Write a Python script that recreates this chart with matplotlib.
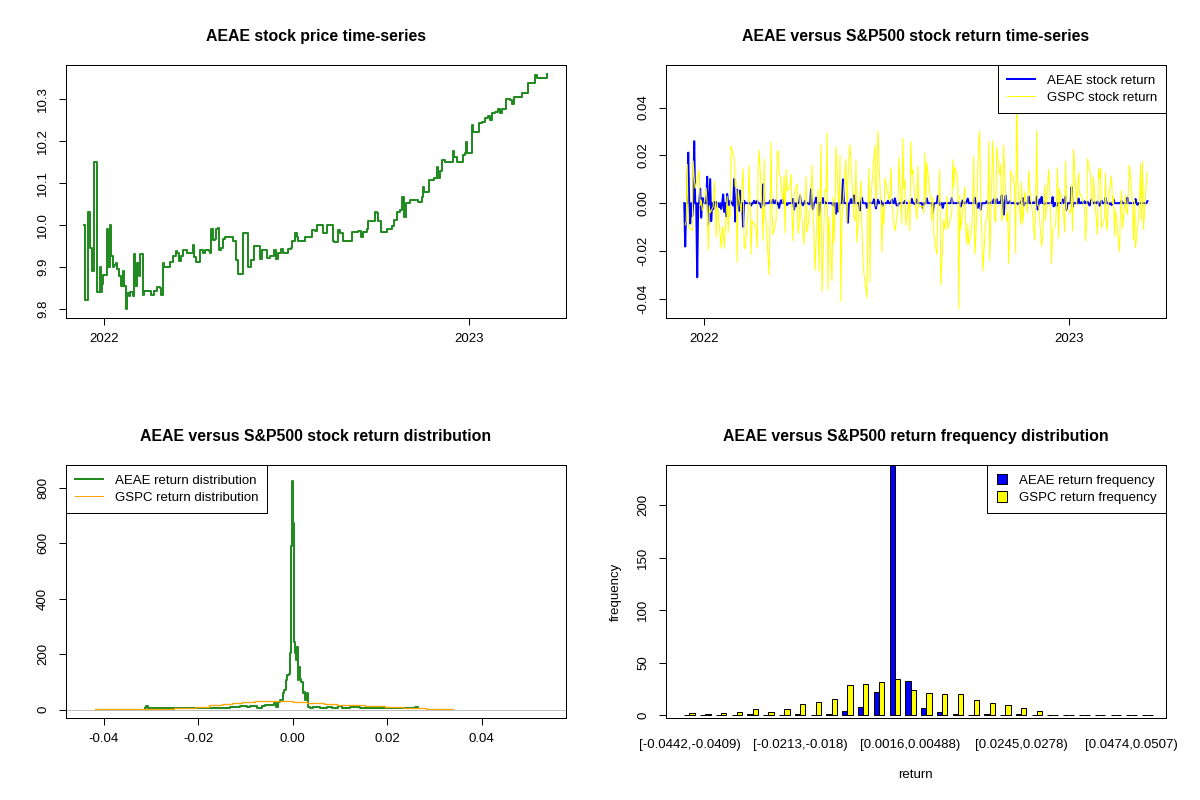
import numpy as np
import pandas as pd
import matplotlib
matplotlib.use('Agg')
import matplotlib.pyplot as plt
import matplotlib.dates as mdates
from matplotlib.patches import Patch
from matplotlib.lines import Line2D

plt.rcParams['font.family'] = ['Liberation Sans', 'DejaVu Sans']

# ---------------- data ----------------
# AEAE price: days after 2022-01-01 and closing price (read at the jumps)
price_day = [-20, -19, -17, -16, -14, -12, -11, -10, -7, -4, -3, -2, -1, 2, 3, 4, 6, 7, 9, 10,
             12, 13, 15, 17, 19, 20, 22, 23, 25, 26, 29, 30, 31, 33, 35, 36, 38, 39, 40, 46,
             47, 50, 53, 56, 57, 59, 60, 64, 66, 69, 72, 73, 75, 77, 79, 83, 88, 89, 90, 92,
             95, 96, 99, 101, 105, 106, 107, 109, 111, 112, 114, 115, 117, 119, 121, 129, 132, 134, 138, 139,
             143, 144, 147, 150, 154, 156, 158, 162, 163, 166, 170, 172, 174, 177, 179, 181, 184, 187, 188, 191,
             193, 194, 199, 201, 207, 208, 211, 213, 218, 219, 223, 227, 229, 230, 234, 236, 239, 244, 248, 254,
             257, 259, 263, 264, 268, 271, 273, 274, 277, 281, 283, 288, 290, 293, 296, 298, 300, 302, 304, 306,
             311, 314, 318, 319, 320, 324, 325, 330, 333, 334, 336, 338, 341, 348, 349, 350, 353, 356, 359, 361,
             362, 363, 367, 368, 369, 374, 375, 378, 381, 384, 386, 388, 391, 394, 396, 398, 402, 406, 408, 410,
             414, 418, 424, 429, 432, 434, 442, 444]
price_val = [10.00, 9.82, 9.82, 10.03, 9.945, 9.89, 9.89, 10.15, 9.84, 9.90, 9.84, 9.86, 9.88, 9.88, 9.99, 9.90, 10.00, 9.925, 9.90, 9.905,
             9.91, 9.895, 9.878, 9.854, 9.89, 9.854, 9.80, 9.838, 9.83, 9.84, 9.83, 9.93, 9.854, 9.91, 9.878, 9.93, 9.93, 9.832, 9.842, 9.842,
             9.832, 9.842, 9.852, 9.85, 9.832, 9.91, 9.90, 9.90, 9.911, 9.925, 9.937, 9.933, 9.913, 9.925, 9.941, 9.933, 9.933, 9.951, 9.924, 9.911,
             9.911, 9.941, 9.932, 9.941, 9.937, 9.932, 9.990, 9.965, 9.967, 9.990, 9.993, 9.941, 9.945, 9.966, 9.971, 9.961, 9.917, 9.882, 9.882, 9.981,
             9.981, 9.90, 9.917, 9.949, 9.949, 9.919, 9.941, 9.941, 9.921, 9.925, 9.941, 9.919, 9.933, 9.943, 9.932, 9.933, 9.943, 9.945, 9.961, 9.981,
             9.971, 9.961, 9.961, 9.971, 9.971, 9.989, 9.985, 10.001, 10.001, 9.981, 10.001, 10.001, 9.961, 9.959, 9.989, 9.981, 9.961, 9.961, 9.982, 9.985,
             9.971, 9.982, 9.990, 10.009, 10.009, 10.032, 10.029, 10.009, 9.982, 9.982, 9.990, 9.997, 10.013, 10.030, 10.035, 10.068, 10.020, 10.052, 10.052, 10.060,
             10.060, 10.056, 10.068, 10.090, 10.080, 10.080, 10.108, 10.112, 10.139, 10.112, 10.128, 10.155, 10.151, 10.151, 10.177, 10.163, 10.150, 10.151, 10.167, 10.171,
             10.199, 10.171, 10.171, 10.239, 10.223, 10.223, 10.243, 10.247, 10.255, 10.261, 10.251, 10.267, 10.271, 10.278, 10.267, 10.278, 10.302, 10.298, 10.290, 10.306,
             10.306, 10.316, 10.340, 10.340, 10.358, 10.351, 10.351, 10.360]

# S&P500 daily change in percent, 2021-12-13 .. 2023-03-21
gspc_pct = [
    -0.91, -0.75, 1.63, -0.87, -1.03, -1.14, 1.78, 1.02, 0.62, 1.38, -0.10, 0.14, -0.30, -0.26,
    0.64, -0.06, -1.94, -0.10, -0.41, -0.14, 0.92, 0.28, -1.42, 0.08, -1.84, -0.97, -1.10, -1.89, 0.28, -1.22, -0.15, -0.54, 2.43, 1.89,
    0.69, 0.94, -2.44, 0.52, -0.37, 0.84, 1.45, -1.81, -1.90, -0.38, 1.58, 0.09, -2.12, -0.72, -1.01, -1.84, 1.50, 2.24, -0.24,
    -1.55, 1.86, -0.53, -0.79, -2.95, -0.72, 2.57, -0.43, -1.30, -0.74, 2.14, 2.24, 1.23, 1.17, -0.04, 1.13, -1.23, 1.43, 0.51, 0.71, 1.23, -0.63, -1.57,
    0.34, 0.81, -1.26, -0.97, 0.43, -0.27, -1.69, -0.34, 1.12, -1.21, -0.02, 1.61, -0.06, -1.48, -2.77, 0.57, -2.81, 0.21, 2.47, -3.63,
    0.57, 0.48, 2.99, -3.56, -0.57, -3.20, 0.25, -1.65, -0.13, 2.39, -0.39, 2.02, -4.04, -0.58, 0.01, 1.86, -0.81, 0.95, 1.99, 2.47, -0.63,
    -0.75, 1.84, -1.63, 0.31, 0.95, -1.08, -2.38, -2.91, -3.88, -0.38, 1.46, -3.25, 0.22, 2.45, -0.13, 0.95, 3.06, -0.30, -2.01, -0.07, -0.88,
    1.06, 0.16, 0.36, 1.50, -0.08, -1.15, -0.92, -0.45, -0.30, 1.92, -0.84, 2.76, 0.59, 0.99, -0.93, 0.13, -1.15, 2.62, 1.21, 1.42,
    -0.28, -0.67, 1.56, -0.08, -0.16, -0.12, -0.42, 2.13, -0.07, 1.73, 0.40, 0.19, -0.72, 0.23, -1.29, -2.14, -0.22, 0.29, 1.41, -3.37, -0.67, -1.10, -0.78,
    0.30, -1.07, -0.41, 1.83, 0.66, 1.53, 1.06, -4.32, 0.34, -1.13, -0.72, 0.69, -1.13, -1.71, -0.84, -1.72, -1.03, -0.21, 1.97, -2.11, -1.51,
    2.59, 3.06, -0.20, -1.02, -2.80, -0.75, -0.65, -0.33, 2.60, -2.37, 2.65, 1.14, -0.67, -0.80, 2.37, 1.19, 1.63, -0.74, -0.61, 2.46, -0.75,
    -0.41, -2.50, -1.06, 1.36, 0.96, 0.56, -2.08, 5.54, 0.92, -0.89, 0.87, -0.83, -0.31, 0.48, -0.39, 1.36, 0.59, -0.03, -1.54, -0.16, 3.09,
    -0.09, -0.12, -1.79, -1.44, -0.19, 0.75, -0.73, 1.43, 0.73, -0.61, -2.49, -1.11, -0.90, 0.10, 1.49, -1.45, 0.59, -0.40, -1.20, 1.75, -0.25,
    -0.40, 0.75, -1.16, 2.28, -0.08, 0.70, 1.28, 0.34, 0.40, -0.20, -1.56, -0.76, 1.89, 1.19, -0.07, -0.02, 1.10, 0.25, -1.30, 1.46,
    1.05, 1.47, -1.04, -0.61, 1.29, -1.11, -0.88, 0.22, 1.14, -0.03, 0.28, -1.38, -0.28, -2.00, -0.16, 0.53, -1.05, 0.31, -0.30,
    -0.47, 0.76, 1.61, 0.07, -1.53, 0.14, -1.85, -1.45, -0.15, 1.65, -0.70, 1.76, -1.10, 0.89, 1.30,
]
market_holidays = ['2021-12-24', '2022-01-17', '2022-02-21', '2022-04-15', '2022-05-30', '2022-06-20',
                   '2022-07-04', '2022-09-05', '2022-11-24', '2022-12-26', '2023-01-02', '2023-01-16',
                   '2023-02-20']

# return distribution (step lines)
aeae_dist_x = [-0.03120, -0.03099, -0.03070, -0.02521, -0.01817, -0.01324, -0.01113, -0.00972, -0.00901, -0.00761,
               -0.00655, -0.00585, -0.00479, -0.00408, -0.00352, -0.00324, -0.00268, -0.00211, -0.00183, -0.00141,
               -0.00113, -0.00085, -0.00056, -0.00042, -0.00021, -0.00007, 0.00007, 0.00014, 0.00028, 0.00049,
               0.00063, 0.00077, 0.00092, 0.00106, 0.00127, 0.00155, 0.00183, 0.00211, 0.00239, 0.00268,
               0.00296, 0.00324, 0.00366, 0.00437, 0.00577, 0.00718, 0.00824, 0.00965, 0.01035, 0.01211,
               0.01423, 0.01986, 0.02056, 0.02585, 0.02655]
aeae_dist_y = [4, 12, 4, 6, 7, 10, 13, 10, 13, 7,
               13, 18, 15, 22, 10, 28, 34, 58, 70, 106,
               124, 130, 203, 589, 679, 824, 818, 673, 245, 203,
               227, 178, 227, 106, 154, 112, 100, 58, 64, 34,
               58, 10, 4, 10, 7, 10, 4, 13, 7, 10,
               4, 7, 4, 10, 4]
gspc_dist_x = [-0.0418, -0.0252, -0.0206, -0.0178, -0.0150, -0.0129, -0.0108, -0.0080, -0.0034,
               0.0001, 0.0030, 0.0065, 0.0093, 0.0153, 0.0195, 0.0234, 0.0283, 0.0339]
gspc_dist_y = [3.6, 7.2, 10.9, 15.7, 20.5, 24.1, 27.7, 31.4, 32.6,
               29.0, 22.9, 20.5, 18.1, 13.3, 10.9, 6.0, 3.6, 3.6]

# return frequency per bin (30 bins)
aeae_freq = [0, 0, 0, 0, 1, 0, 0, 1, 0, 1, 4, 8, 22, 238, 33, 7, 3, 1, 0, 1, 0, 1, 0, 0, 0, 0, 0, 0, 0, 0]
gspc_freq = [2, 1, 2, 3, 6, 3, 6, 11, 13, 16, 29, 30, 32, 35, 24, 21, 20, 20, 15, 12, 10, 7, 4, 0, 0, 0, 0, 0, 0, 0]
bin_labels = ['[-0.0442,-0.0409)', '[-0.0213,-0.018)', '[0.0016,0.00488)', '[0.0245,0.0278)', '[0.0474,0.0507)']
label_bins = [0, 7, 14, 21, 28]

# ---------------- derived series ----------------
base = pd.Timestamp('2022-01-01')
price_dates = base + pd.to_timedelta(price_day, unit='D')

aeae_ret = np.diff(np.log(price_val))
rx, ry = [price_day[0]], [0.0]
prev = price_day[0]
for d, r in zip(price_day[1:], aeae_ret):
    if d - prev > 1:
        rx += [prev + 1, d - 1]
        ry += [0.0, 0.0]
    rx.append(d)
    ry.append(r)
    prev = d
ret_dates = base + pd.to_timedelta(rx, unit='D')

gspc_dates = pd.bdate_range('2021-12-13', '2023-03-21', freq='C', holidays=market_holidays)
gspc_ret = np.log1p(np.array(gspc_pct) / 100)
assert len(gspc_dates) == len(gspc_ret)

# ---------------- figure ----------------
TICK = 9.5
TITLE = 11.4
LW = 0.72

fig = plt.figure(figsize=(12, 8), dpi=100)
W, H = 1200.0, 800.0


def panel(col, row):
    left = 65.7 + 600 * col
    top = 65 + 400 * row
    return fig.add_axes([left / W, 1 - (top + 253) / H, 500.3 / W, 253 / H])


def style(ax, title):
    for s in ax.spines.values():
        s.set_linewidth(LW)
    ax.tick_params(direction='out', length=5, width=LW, labelsize=TICK)
    ax.tick_params(axis='x', pad=5.5)
    ax.tick_params(axis='y', pad=7, labelrotation=90)
    for lab in ax.get_yticklabels():
        lab.set_va('center')
    ax.set_title(title, fontsize=TITLE, fontweight='bold', pad=17)


def legend(ax, handles, labels, loc, hlen=2.1):
    leg = ax.legend(handles, labels, loc=loc, borderaxespad=0, fancybox=False, framealpha=1,
                    edgecolor='black', fontsize=TICK, handlelength=hlen, handleheight=0.8,
                    handletextpad=0.9, borderpad=0.7, labelspacing=0.35)
    leg.get_frame().set_linewidth(LW)
    return leg


# top left: price
ax1 = panel(0, 0)
ax1.plot(price_dates, price_val, color='forestgreen', lw=1.44, drawstyle='steps-post')
ax1.margins(x=0.04, y=0.04)
ax1.set_yticks([9.8, 9.9, 10.0, 10.1, 10.2, 10.3])
ax1.set_yticklabels(['9.8', '9.9', '10.0', '10.1', '10.2', '10.3'])
ax1.xaxis.set_major_locator(mdates.YearLocator())
ax1.xaxis.set_major_formatter(mdates.DateFormatter('%Y'))
style(ax1, 'AEAE stock price time-series')

# top right: returns
ax2 = panel(1, 0)
ax2.plot(ret_dates, ry, color='blue', lw=1.44)
ax2.plot(gspc_dates, gspc_ret, color='yellow', lw=LW)
ax2.margins(x=0.04, y=0.04)
ax2.set_yticks([-0.04, -0.02, 0.0, 0.02, 0.04])
ax2.set_yticklabels(['-0.04', '-0.02', '0.00', '0.02', '0.04'])
ax2.xaxis.set_major_locator(mdates.YearLocator())
ax2.xaxis.set_major_formatter(mdates.DateFormatter('%Y'))
style(ax2, 'AEAE versus S&P500 stock return time-series')
legend(ax2, [Line2D([], [], color='blue', lw=1.44), Line2D([], [], color='yellow', lw=LW)],
       ['AEAE stock return', 'GSPC stock return'], 'upper right')

# bottom left: distributions
ax3 = panel(0, 1)
ax3.plot(aeae_dist_x, aeae_dist_y, color='forestgreen', lw=1.44, drawstyle='steps-post')
ax3.plot(gspc_dist_x, gspc_dist_y, color='orange', lw=LW * 1.3, drawstyle='steps-post')
ax3.axhline(0, color='#BEBEBE', lw=LW)
lo, hi = gspc_ret.min(), gspc_ret.max()
ax3.set_xlim(lo - 0.04 * (hi - lo), hi + 0.04 * (hi - lo))
ax3.set_ylim(-30.4, 881.8)
ax3.set_xticks([-0.04, -0.02, 0.0, 0.02, 0.04])
ax3.set_xticklabels(['-0.04', '-0.02', '0.00', '0.02', '0.04'])
ax3.set_yticks([0, 200, 400, 600, 800])
style(ax3, 'AEAE versus S&P500 stock return distribution')
legend(ax3, [Line2D([], [], color='forestgreen', lw=1.44), Line2D([], [], color='orange', lw=LW)],
       ['AEAE return distribution', 'GSPC return distribution'], 'upper left')

# bottom right: grouped frequency bars
ax4 = panel(1, 1)
g = np.arange(len(aeae_freq))
ax4.bar(3 * g + 1.5, aeae_freq, width=1, color='blue', edgecolor='black', linewidth=LW)
ax4.bar(3 * g + 2.5, gspc_freq, width=1, color='yellow', edgecolor='black', linewidth=LW)
n_units = 3 * len(g) - 1
ax4.set_xlim(1 - 0.04 * (n_units - 1), n_units + 0.04 * (n_units - 1))
top = max(max(aeae_freq), max(gspc_freq))
ax4.set_ylim(-0.01 * top, top)
ax4.set_xticks([3 * b + 2 for b in label_bins])
ax4.set_xticklabels(bin_labels)
ax4.set_yticks([0, 50, 100, 150, 200])
style(ax4, 'AEAE versus S&P500 return frequency distribution')
ax4.tick_params(axis='x', length=0, pad=15)
ax4.set_xlabel('return', fontsize=TICK, labelpad=13)
ax4.set_ylabel('frequency', fontsize=TICK, labelpad=11)
legend(ax4, [Patch(facecolor='blue', edgecolor='black', lw=LW),
             Patch(facecolor='yellow', edgecolor='black', lw=LW)],
       ['AEAE return frequency', 'GSPC return frequency'], 'upper right', hlen=0.8)

fig.savefig('out.png', dpi=100)
